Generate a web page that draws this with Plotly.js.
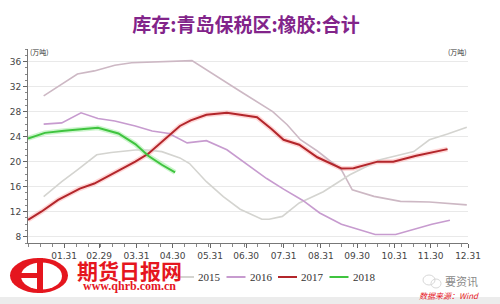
<!DOCTYPE html>
<html>
<head>
<meta charset="utf-8">
<script src="https://cdn.plot.ly/plotly-3.0.1.min.js"></script>
<style>
html,body{margin:0;padding:0;background:#fff;}
#chart{width:500px;height:304px;}
</style>
</head>
<body>
<div id="chart"></div>
<script>
// ---- data (x positions use a common leap-year calendar, 2016) ----
const seriesNames = ['2014', '2015', '2016', '2017', '2018'];

const dates2014 = ['2016-01-14','2016-02-11','2016-02-25','2016-03-13','2016-03-27','2016-04-18','2016-05-16','2016-06-25','2016-07-11','2016-07-22','2016-08-03','2016-08-14','2016-08-28','2016-09-17','2016-09-26','2016-10-14','2016-11-05','2016-11-29','2016-12-30'];
const values2014 = [30.5,34.0,34.5,35.4,35.8,36.0,36.15,31.25,29.3,28.0,25.9,23.5,21.7,18.7,15.5,14.45,13.65,13.55,13.1];

const dates2015 = ['2016-01-14','2016-01-29','2016-02-11','2016-02-27','2016-03-10','2016-03-30','2016-04-09','2016-04-21','2016-05-06','2016-05-14','2016-05-28','2016-06-11','2016-06-25','2016-07-13','2016-07-19','2016-07-30','2016-08-13','2016-09-02','2016-09-24','2016-10-19','2016-11-16','2016-11-29','2016-12-14','2016-12-30'];
const values2015 = [14.4,16.8,18.7,21.1,21.45,21.85,21.85,21.6,20.6,19.7,16.8,14.4,12.4,10.8,10.8,11.25,13.4,15.2,17.9,20.3,21.6,23.5,24.4,25.5];

const dates2016 = ['2016-01-14','2016-01-29','2016-02-14','2016-02-28','2016-03-13','2016-03-30','2016-04-13','2016-04-27','2016-05-12','2016-05-28','2016-06-14','2016-06-30','2016-07-17','2016-07-31','2016-08-16','2016-08-30','2016-09-17','2016-10-15','2016-11-01','2016-12-01','2016-12-16'];
const values2016 = [26.0,26.2,27.8,26.9,26.5,25.7,24.9,24.5,23.0,23.35,21.9,19.6,17.3,15.6,13.8,11.8,10.0,8.35,8.35,10.0,10.65];

const dates2017 = ['2016-01-01','2016-01-12','2016-01-26','2016-02-13','2016-02-25','2016-03-07','2016-03-19','2016-03-30','2016-04-10','2016-04-18','2016-04-28','2016-05-06','2016-05-15','2016-05-28','2016-06-14','2016-06-25','2016-07-09','2016-07-21','2016-07-31','2016-08-13','2016-08-28','2016-09-17','2016-09-27','2016-10-17','2016-10-30','2016-11-18','2016-12-14'];
const values2017 = [10.7,12.0,13.9,15.7,16.5,17.6,18.9,20.0,21.3,22.7,24.4,25.7,26.6,27.5,27.8,27.5,27.1,25.2,23.5,22.7,20.7,18.9,18.95,20.0,20.0,20.95,22.0];

const dates2018 = ['2016-01-01','2016-01-15','2016-01-31','2016-02-14','2016-02-28','2016-03-16','2016-03-30','2016-04-10','2016-04-21','2016-05-02'];
const values2018 = [23.7,24.6,24.95,25.2,25.4,24.5,22.8,20.9,19.5,18.3];

const tickDates = ['2016-01-31','2016-02-29','2016-03-31','2016-04-30','2016-05-31','2016-06-30','2016-07-31','2016-08-31','2016-09-30','2016-10-31','2016-11-30','2016-12-31'];
const tickLabels = ['01.31','02.29','03.31','04.30','05.31','06.30','07.31','08.31','09.30','10.31','11.30','12.31'];
const yTicks = [8, 12, 16, 20, 24, 28, 32, 36];

const chartTitle = '库存:青岛保税区:橡胶:合计';
const unitLabel = '(万吨)';

// ---- styling ----
const lineColors = ['#CDB8C4', '#D4D4D0', '#C79BCF', '#B3262B', '#3FC43F'];
const haloColors = [null, null, null, 'rgba(255,140,140,0.35)', 'rgba(110,225,110,0.35)'];
const allDates = [dates2014, dates2015, dates2016, dates2017, dates2018];
const allValues = [values2014, values2015, values2016, values2017, values2018];

const traces = [];
for (let i = 0; i < seriesNames.length; i++) {
  if (haloColors[i]) {
    traces.push({
      x: allDates[i], y: allValues[i], type: 'scatter', mode: 'lines',
      line: {color: haloColors[i], width: 5}, showlegend: false, hoverinfo: 'skip'
    });
  }
}
for (let i = 0; i < seriesNames.length; i++) {
  traces.push({
    x: allDates[i], y: allValues[i], type: 'scatter', mode: 'lines',
    name: seriesNames[i], showlegend: false,
    line: {color: lineColors[i], width: i >= 3 ? 2 : 1.6}
  });
}

// plot area in pixels: x 28..468, y 49..243
const PL = 28, PR = 468, PT = 49, PB = 243;
const px = X => (X - PL) / (PR - PL);
const py = Y => (PB - Y) / (PB - PT);

const axisFont = {family: 'DejaVu Sans', size: 9, color: '#444'};
const red = '#E5161E';

const shapes = [
  // bottom frame strip
  {type: 'rect', xref: 'paper', yref: 'paper', x0: px(0), x1: px(500), y0: py(304), y1: py(297), fillcolor: '#ECECEC', line: {width: 0}, layer: 'below'},
  // logo
  {type: 'circle', xref: 'paper', yref: 'paper', x0: px(10), x1: px(68), y0: py(293), y1: py(258), fillcolor: red, line: {width: 0}},
  {type: 'circle', xref: 'paper', yref: 'paper', x0: px(21), x1: px(62), y0: py(289.5), y1: py(262.5), fillcolor: '#fff', line: {width: 0}},
  {type: 'rect', xref: 'paper', yref: 'paper', x0: px(37), x1: px(43), y0: py(293), y1: py(258), fillcolor: red, line: {width: 0}},
  {type: 'rect', xref: 'paper', yref: 'paper', x0: px(18), x1: px(38), y0: py(278), y1: py(273), fillcolor: red, line: {width: 0}},
  // wechat-like faint icon
  {type: 'circle', xref: 'paper', yref: 'paper', x0: px(423), x1: px(435), y0: py(285), y1: py(275), fillcolor: 'rgba(0,0,0,0)', line: {width: 1, color: '#D8D8D8'}},
  {type: 'circle', xref: 'paper', yref: 'paper', x0: px(431), x1: px(441), y0: py(288), y1: py(279), fillcolor: 'rgba(0,0,0,0)', line: {width: 1, color: '#D8D8D8'}}
];

const annotations = [
  {text: unitLabel, xref: 'paper', yref: 'paper', x: px(39), y: py(52), showarrow: false, xanchor: 'center', yanchor: 'middle', font: {family: 'Noto Sans CJK SC', size: 7, color: '#333'}},
  {text: unitLabel, xref: 'paper', yref: 'paper', x: px(457), y: py(52), showarrow: false, xanchor: 'center', yanchor: 'middle', font: {family: 'Noto Sans CJK SC', size: 7, color: '#333'}}
];

// legend (compact, as in the reference); 2014's entry is hidden behind the logo there
const legendStart = 175, legendPitch = 51.5, legendY = 277;
for (let i = 1; i < seriesNames.length; i++) {
  const x0 = legendStart + (i - 1) * legendPitch;
  shapes.push({type: 'line', xref: 'paper', yref: 'paper', x0: px(x0), x1: px(x0 + 19), y0: py(legendY), y1: py(legendY),
               line: {color: lineColors[i], width: 2}});
  annotations.push({text: seriesNames[i], xref: 'paper', yref: 'paper', x: px(x0 + 21), y: py(legendY), showarrow: false,
                    xanchor: 'left', yanchor: 'middle', font: {family: 'Liberation Serif', size: 11, color: '#333'}});
}

annotations.push(
  {text: '<b>期货日报网</b>', xref: 'paper', yref: 'paper', x: px(129), y: py(270), showarrow: false, xanchor: 'center', yanchor: 'middle', font: {family: 'Noto Sans CJK SC', size: 21, color: red}},
  {text: '<b>www.qhrb.com.cn</b>', xref: 'paper', yref: 'paper', x: px(129), y: py(286), showarrow: false, xanchor: 'center', yanchor: 'middle', font: {family: 'Liberation Serif', size: 12, color: red}},
  {text: '要资讯', xref: 'paper', yref: 'paper', x: px(461), y: py(281), showarrow: false, xanchor: 'center', yanchor: 'middle', font: {family: 'Noto Sans CJK SC', size: 11, color: '#8A8A8A'}},
  {text: '<i>数据来源：Wind</i>', xref: 'paper', yref: 'paper', x: px(449), y: py(295), showarrow: false, xanchor: 'center', yanchor: 'middle', font: {family: 'Noto Sans CJK SC', size: 8, color: red}}
);

const layout = {
  width: 500, height: 304,
  margin: {l: PL, r: 500 - PR, t: PT, b: 304 - PB},
  paper_bgcolor: '#fff', plot_bgcolor: '#fff',
  title: {text: '<b>' + chartTitle + '</b>', x: 0.492, xanchor: 'center', y: 0.918, yanchor: 'middle',
          font: {family: 'Noto Sans CJK SC', size: 19, color: '#82248A'}},
  showlegend: false,
  xaxis: {
    type: 'date', range: ['2016-01-01', '2016-12-31'],
    tickmode: 'array', tickvals: tickDates, ticktext: tickLabels,
    ticks: 'outside', ticklen: 4, tickcolor: '#666', tickfont: axisFont,
    showline: true, linecolor: '#777', linewidth: 1, showgrid: false, zeroline: false,
    minor: {ticks: 'outside', ticklen: 3, tickcolor: '#888', dtick: 10 * 86400000, tick0: '2016-01-01', showgrid: false},
    fixedrange: true
  },
  yaxis: {
    range: [7, 38], tickmode: 'array', tickvals: yTicks, ticks: 'outside', ticklen: 4, tickcolor: '#666',
    tickfont: axisFont, showline: true, linecolor: '#777', linewidth: 1,
    showgrid: true, gridcolor: '#E9E9E9', gridwidth: 1, zeroline: false,
    minor: {ticks: 'outside', ticklen: 2, tickcolor: '#888', dtick: 1, showgrid: false}
  },
  yaxis2: {
    range: [7, 38], overlaying: 'y', side: 'right', tickmode: 'array', tickvals: yTicks,
    ticks: 'outside', ticklen: 4, tickcolor: '#666', tickfont: axisFont,
    showline: true, linecolor: '#777', linewidth: 1, showgrid: false, zeroline: false,
    minor: {ticks: 'outside', ticklen: 2, tickcolor: '#888', dtick: 1, showgrid: false}
  },
  shapes: shapes,
  annotations: annotations
};

Plotly.newPlot('chart', traces, layout, {staticPlot: true, displayModeBar: false});
</script>
</body>
</html>
